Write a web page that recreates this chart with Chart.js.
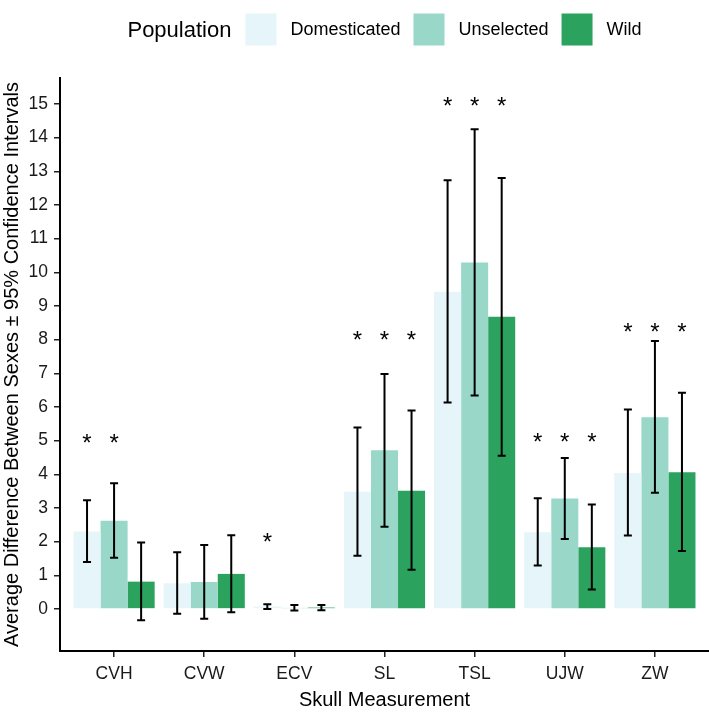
<!DOCTYPE html>
<html>
<head>
<meta charset="utf-8">
<script src="https://cdn.jsdelivr.net/npm/chart.js@4.4.0/dist/chart.umd.min.js"></script>
<style>
html,body{margin:0;padding:0;background:#ffffff;}
#wrap{width:709px;height:713px;}
</style>
</head>
<body>
<div id="wrap"><canvas id="c" width="709" height="713"></canvas></div>
<script>
// ---- data ----
const categories = ['CVH', 'CVW', 'ECV', 'SL', 'TSL', 'UJW', 'ZW'];
const seriesNames = ['Domesticated', 'Unselected', 'Wild'];
const legendTitle = 'Population';
const xTitle = 'Skull Measurement';
const yTitle = 'Average Difference Between Sexes \u00B1 95% Confidence Intervals';

const domMean  = [2.30, 0.76, 0.07, 3.48, 9.42, 2.28, 4.04];
const unsMean  = [2.62, 0.80, 0.03, 4.71, 10.29, 3.28, 5.69];
const wildMean = [0.81, 1.04, 0.04, 3.51, 8.68, 1.83, 4.06];

const domLow   = [1.39, -0.14, 0.00, 1.58, 6.13, 1.29, 2.18];
const domHigh  = [3.23, 1.68, 0.14, 5.39, 12.73, 3.29, 5.92];
const unsLow   = [1.52, -0.29, -0.05, 2.44, 6.34, 2.08, 3.45];
const unsHigh  = [3.73, 1.90, 0.12, 6.98, 14.25, 4.48, 7.96];
const wildLow  = [-0.34, -0.10, -0.04, 1.16, 4.55, 0.58, 1.72];
const wildHigh = [1.97, 2.19, 0.12, 5.89, 12.80, 3.10, 6.42];

// significance star heights (null = no star)
const domStar  = [5.1, null, 2.15, 8.15, 15.1, 5.12, 8.38];
const unsStar  = [5.1, null, null, 8.15, 15.1, 5.12, 8.38];
const wildStar = [null, null, null, 8.15, 15.1, 5.12, 8.38];

const yTickValues = [0, 1, 2, 3, 4, 5, 6, 7, 8, 9, 10, 11, 12, 13, 14, 15];
const yMin = -1.25, yMax = 15.77;

const colors = ['#E5F5F9', '#99D8C9', '#2CA25F'];
const FONT = "'Liberation Sans', Arial, Helvetica, sans-serif";

function pts(arr) { return arr.map((v, i) => ({ x: i, y: v })); }

const errorBarPlugin = {
  id: 'errorBars',
  afterDatasetsDraw(chart) {
    const ctx = chart.ctx, ys = chart.scales.y;
    ctx.save();
    ctx.strokeStyle = '#000000';
    ctx.lineWidth = 2;
    ctx.lineCap = 'butt';
    chart.data.datasets.forEach((ds, di) => {
      const meta = chart.getDatasetMeta(di);
      ds.errLow.forEach((lo, j) => {
        const x = meta.data[j].x;
        const yl = ys.getPixelForValue(lo);
        const yh = ys.getPixelForValue(ds.errHigh[j]);
        const cw = 4;
        ctx.beginPath();
        ctx.moveTo(x, yl); ctx.lineTo(x, yh);
        ctx.moveTo(x - cw, yl); ctx.lineTo(x + cw, yl);
        ctx.moveTo(x - cw, yh); ctx.lineTo(x + cw, yh);
        ctx.stroke();
      });
    });
    ctx.restore();
  }
};

const starPlugin = {
  id: 'stars',
  afterDatasetsDraw(chart) {
    const ctx = chart.ctx, ys = chart.scales.y;
    const size = 24;
    ctx.save();
    ctx.fillStyle = '#000000';
    ctx.font = size + 'px ' + FONT;
    ctx.textAlign = 'center';
    ctx.textBaseline = 'alphabetic';
    chart.data.datasets.forEach((ds, di) => {
      const meta = chart.getDatasetMeta(di);
      ds.stars.forEach((s, j) => {
        if (s === null) return;
        const x = meta.data[j].x;
        ctx.fillText('*', x, ys.getPixelForValue(s) + 0.57 * size);
      });
    });
    ctx.restore();
  }
};

const legendPlugin = {
  id: 'ggLegend',
  afterDraw(chart) {
    const ctx = chart.ctx, area = chart.chartArea;
    ctx.save();
    const titleFont = '22px ' + FONT, itemFont = '18px ' + FONT;
    const keyW = 31, keyH = 32, gapTitle = 14, gapKey = 14, gapItem = 13;
    ctx.font = titleFont;
    const tw = ctx.measureText(legendTitle).width;
    ctx.font = itemFont;
    const ds = chart.data.datasets;
    const lw = ds.map(d => ctx.measureText(d.label).width);
    let total = tw + gapTitle;
    lw.forEach((w, i) => { total += keyW + gapKey + w + (i < lw.length - 1 ? gapItem : 0); });
    let x = (area.left + area.right) / 2 - total / 2;
    const cy = 29.5;
    ctx.textBaseline = 'middle';
    ctx.textAlign = 'left';
    ctx.fillStyle = '#000000';
    ctx.font = titleFont;
    ctx.fillText(legendTitle, x, cy + 1);
    x += tw + gapTitle;
    ctx.font = itemFont;
    ds.forEach((d, i) => {
      ctx.fillStyle = d.backgroundColor;
      ctx.fillRect(x, cy - keyH / 2, keyW, keyH);
      x += keyW + gapKey;
      ctx.fillStyle = '#000000';
      ctx.fillText(d.label, x, cy + 1);
      x += lw[i] + gapItem;
    });
    ctx.restore();
  }
};

const means = [domMean, unsMean, wildMean];
const lows = [domLow, unsLow, wildLow];
const highs = [domHigh, unsHigh, wildHigh];
const stars = [domStar, unsStar, wildStar];

const datasets = seriesNames.map((name, i) => ({
  label: name,
  data: pts(means[i]),
  backgroundColor: colors[i],
  borderWidth: 0,
  categoryPercentage: 0.9,
  barPercentage: 1.0,
  errLow: lows[i],
  errHigh: highs[i],
  stars: stars[i]
}));

new Chart(document.getElementById('c').getContext('2d'), {
  type: 'bar',
  data: { datasets: datasets },
  options: {
    responsive: false,
    animation: false,
    devicePixelRatio: 1,
    layout: { padding: { top: 78, left: 0, right: 0, bottom: 0 } },
    plugins: { legend: { display: false }, tooltip: { enabled: false } },
    scales: {
      x: {
        type: 'linear',
        min: -0.6,
        max: 6.6,
        offset: false,
        grid: { display: true, drawOnChartArea: false, offset: false, color: '#222222', lineWidth: 1.5, tickLength: 6 },
        border: { display: true, color: '#000000', width: 2 },
        ticks: {
          callback: (v) => categories[v],
          font: { family: FONT, size: 17.5 },
          color: '#1a1a1a',
          padding: 7,
          maxRotation: 0,
          autoSkip: false
        },
        afterBuildTicks: (s) => { s.ticks = categories.map((_, i) => ({ value: i })); },
        afterFit: (s) => { s.height = 62; },
        title: { display: true, text: xTitle, font: { family: FONT, size: 20 }, color: '#000000', padding: { top: 0, bottom: 1 } }
      },
      y: {
        type: 'linear',
        min: yMin,
        max: yMax,
        grid: { display: true, drawOnChartArea: false, color: '#222222', lineWidth: 1.5, tickLength: 6 },
        border: { display: true, color: '#000000', width: 2 },
        ticks: {
          font: { family: FONT, size: 17.5 },
          color: '#1a1a1a',
          padding: 6
        },
        afterBuildTicks: (s) => { s.ticks = yTickValues.map(v => ({ value: v })); },
        afterFit: (s) => { s.width = 60; },
        title: { display: true, text: yTitle, font: { family: FONT, size: 20 }, color: '#000000', padding: { top: 0, bottom: 0 } }
      }
    }
  },
  plugins: [errorBarPlugin, starPlugin, legendPlugin]
});
</script>
</body>
</html>
